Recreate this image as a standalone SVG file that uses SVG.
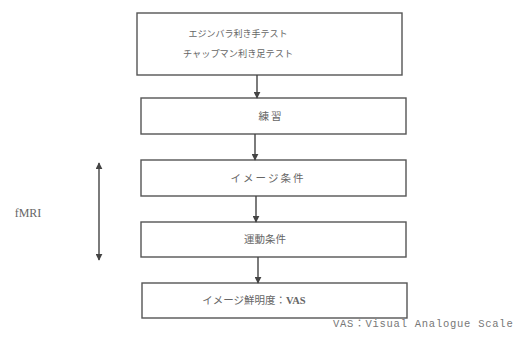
<svg xmlns="http://www.w3.org/2000/svg" width="515" height="338" viewBox="0 0 515 338">
<defs>
<marker id="ah" viewBox="0 0 10 10" refX="9" refY="5" markerWidth="7" markerHeight="7" markerUnits="userSpaceOnUse" orient="auto-start-reverse">
<path d="M0,0 L10,5 L0,10 z" fill="#444"/>
</marker>
<style>
.box{fill:#fff;stroke:#555;stroke-width:1.4}
.t{font-family:"Liberation Serif","Noto Sans CJK JP",serif;font-size:10.5px;fill:#666;text-anchor:middle}
.c{stroke:#444;stroke-width:1.4;fill:none;marker-end:url(#ah)}
.fn{font-family:"Liberation Mono","Noto Sans CJK JP",monospace;font-size:10.5px;fill:#777;letter-spacing:0.75px}
</style>
</defs>
<rect width="515" height="338" fill="#fff"/>
<g id="n1">
<rect class="box" x="137" y="13" width="265" height="62"/>
<text class="t" x="238" y="37" style="font-size:9px">エジンバラ利き手テスト</text>
<text class="t" x="238" y="57" style="font-size:9.2px">チャップマン利き足テスト</text>
</g>
<g id="n2">
<rect class="box" x="141" y="98" width="265" height="36"/>
<text class="t" x="271" y="120" style="letter-spacing:2px">練習</text>
</g>
<g id="n3">
<rect class="box" x="141" y="160" width="265" height="36"/>
<text class="t" x="268" y="182" style="letter-spacing:2px">イメージ条件</text>
</g>
<g id="n4">
<rect class="box" x="141" y="222" width="265" height="35"/>
<text class="t" x="265" y="243">運動条件</text>
</g>
<g id="n5">
<rect class="box" x="142" y="283" width="265" height="35"/>
<text class="t" x="254" y="304">イメージ鮮明度：<tspan font-weight="bold">VAS</tspan></text>
</g>
<g id="fmri">
<text x="28" y="217" style="font-family:'Liberation Serif',serif;font-size:12px;fill:#666;text-anchor:middle">fMRI</text>
</g>
<g id="connectors">
<line class="c" x1="257" y1="75" x2="257" y2="98"/>
<line class="c" x1="255" y1="134" x2="255" y2="160"/>
<line class="c" x1="256" y1="196" x2="256" y2="222"/>
<line class="c" x1="258" y1="257" x2="258" y2="283"/>
<line class="c" x1="99" y1="163" x2="99" y2="260" style="marker-start:url(#ah)"/>
</g>
<text class="fn" x="333" y="327">VAS：Visual Analogue Scale</text>
</svg>
